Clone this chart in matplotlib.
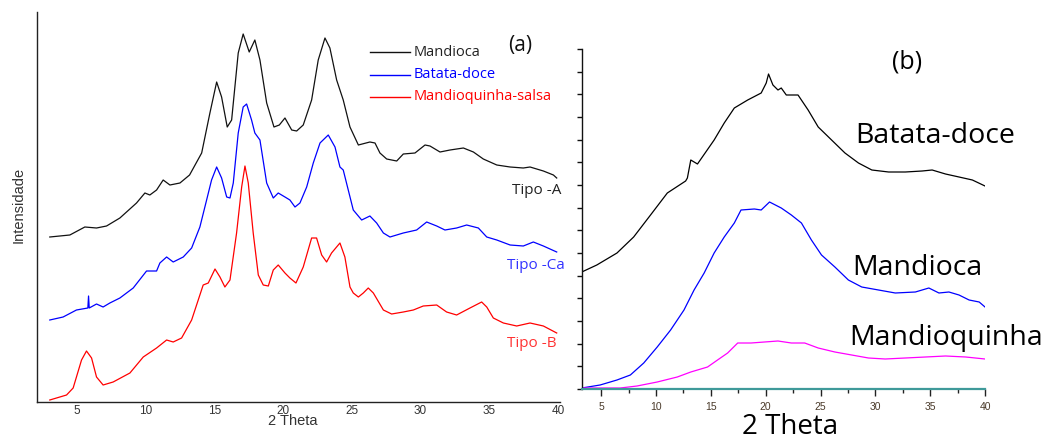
import matplotlib
matplotlib.use("Agg")
import matplotlib.pyplot as plt
import numpy as np
from matplotlib.lines import Line2D

# ---------------- Panel (a) data: 2 Theta vs intensity (a.u.) ----------------
a_mandioca_x = [3.03, 4.49, 5.58, 6.43, 7.16, 8.13, 9.34, 9.95, 10.31, 10.8, 11.28, 11.77, 12.5, 13.2,
                14.08, 14.68, 15.17, 15.53, 15.94, 16.26, 16.74, 17.1, 17.54, 17.95, 18.32, 18.81, 19.34,
                19.73, 20.14, 20.63, 20.99, 21.47, 22.08, 22.56, 23.05, 23.41, 23.9, 24.38, 24.87, 25.48,
                26.32, 26.69, 27.05, 27.54, 28.27, 28.75, 29.6, 30.33, 30.69, 31.42, 32.15, 33.12, 33.85,
                34.57, 35.55, 36.52, 37.48, 37.97, 38.94, 39.67, 39.91]
a_mandioca_y = [165, 167, 175, 174, 176, 184, 199, 209, 207, 212, 222, 217, 219, 227,
                249, 289, 320, 305, 275, 282, 349, 368, 350, 362, 342, 299, 275,
                277, 284, 272, 271, 277, 302, 342, 364, 354, 322, 302, 275, 257,
                260, 259, 249, 243, 241, 248, 249, 257, 256, 250, 252, 254, 250,
                243, 237, 235, 234, 235, 231, 227, 224]

a_batata_x = [3.03, 4.0, 4.97, 5.8, 5.85, 5.9, 6.43, 6.91, 7.4, 8.13, 9.1, 10.07, 10.8, 11.04, 11.53,
              12.01, 12.74, 13.35, 13.95, 14.44, 14.8, 15.17, 15.53, 15.9, 16.14, 16.38, 16.74, 17.1,
              17.35, 17.71, 17.95, 18.32, 18.81, 19.29, 19.65, 20.14, 20.5, 20.87, 21.23, 21.72, 22.2,
              22.69, 23.29, 23.78, 24.14, 24.38, 25.11, 25.72, 26.32, 26.81, 27.3, 27.78, 28.75, 29.72,
              30.45, 31.18, 31.78, 32.63, 33.36, 34.21, 34.82, 35.55, 36.52, 37.48, 38.21, 38.94, 39.91]
a_batata_y = [82, 85, 92, 94, 106, 94, 98, 95, 99, 104, 114, 131, 131, 139, 145,
              140, 145, 154, 175, 202, 222, 235, 224, 205, 204, 219, 269, 295,
              298, 282, 269, 262, 219, 204, 209, 205, 202, 195, 199, 215, 239,
              259, 267, 255, 235, 232, 192, 182, 186, 179, 169, 165, 169, 172,
              180, 176, 172, 174, 177, 174, 165, 162, 157, 156, 160, 156, 150]

a_mandioquinha_x = [3.03, 4.25, 4.73, 5.34, 5.7, 6.07, 6.43, 6.91, 7.64, 8.86, 9.83, 10.8, 11.53, 12.01,
                    12.62, 13.35, 13.83, 14.19, 14.56, 15.05, 15.41, 15.77, 16.14, 16.62, 16.99, 17.23,
                    17.47, 17.83, 18.2, 18.56, 18.93, 19.29, 19.65, 20.14, 20.5, 20.94, 21.47, 22.08,
                    22.44, 22.81, 23.17, 23.53, 24.14, 24.5, 24.87, 25.11, 25.48, 25.84, 26.2, 26.57,
                    27.3, 27.9, 28.75, 29.48, 30.2, 31.18, 31.9, 32.63, 33.6, 34.45, 34.82, 35.3, 36.03,
                    37.0, 37.97, 38.94, 39.91]
a_mandioquinha_y = [2, 7, 14, 42, 51, 44, 25, 17, 20, 29, 45, 54, 62, 60,
                    64, 82, 102, 117, 119, 133, 125, 115, 122, 169, 215, 236,
                    219, 169, 127, 117, 116, 132, 137, 129, 124, 119, 135, 164,
                    164, 147, 140, 149, 159, 145, 115, 109, 105, 109, 114, 109,
                    92, 88, 90, 92, 96, 97, 90, 87, 94, 100, 95, 84, 79,
                    76, 79, 76, 69]

a_series = ["Mandioca", "Batata-doce", "Mandioquinha-salsa"]
a_types = ["Tipo -A", "Tipo -Ca", "Tipo -B"]

# ---------------- Panel (b) data ----------------
b_batata_x = [3.23, 4.6, 6.44, 7.96, 9.5, 11.03, 12.7, 12.86, 13.17, 13.78, 15.3, 16.22, 17.14, 18.36,
              19.59, 20.05, 20.26, 20.66, 21.12, 21.42, 21.88, 22.95, 23.87, 24.79, 26.01, 27.23, 28.46,
              29.68, 31.21, 32.73, 34.27, 35.18, 36.4, 37.63, 38.85, 40.0]
b_batata_y = [117, 124, 136, 152, 174, 196, 208, 211, 229, 225, 249, 266, 281, 289,
              296, 306, 315, 304, 299, 301, 294, 294, 279, 262, 249, 236, 226,
              219, 217, 217, 218, 219, 215, 212, 209, 203]

b_mandioca_x = [3.23, 4.9, 6.44, 7.66, 8.88, 10.11, 11.33, 12.55, 13.47, 14.39, 15.3, 16.22, 17.14, 17.75,
                18.97, 19.59, 20.35, 21.42, 22.34, 23.26, 24.17, 25.09, 26.31, 27.54, 28.76, 30.29, 31.82,
                33.65, 34.88, 35.8, 36.71, 37.63, 38.55, 39.47, 40.0]
b_mandioca_y = [1, 4, 9, 14, 26, 42, 59, 79, 99, 116, 136, 152, 166, 179,
                180, 179, 187, 181, 174, 166, 149, 134, 122, 109, 102, 99, 96,
                97, 101, 96, 97, 94, 89, 87, 82]

b_mandioquinha_x = [3.23, 6.74, 8.27, 10.11, 11.94, 13.17, 14.7, 15.61, 16.53, 17.45, 18.67, 19.89, 21.12,
                    22.34, 23.56, 24.79, 26.31, 27.84, 29.37, 30.9, 32.73, 34.57, 36.4, 38.24, 40.0]
b_mandioquinha_y = [1, 1, 3, 7, 12, 17, 22, 29, 36, 46, 46, 47, 48,
                    46, 46, 41, 37, 34, 31, 30, 31, 32, 33, 32, 30]

b_labels = ["Batata-doce", "Mandioca", "Mandioquinha"]
x_ticks = [5, 10, 15, 20, 25, 30, 35, 40]

W, H = 1047, 440
fig = plt.figure(figsize=(W / 100, H / 100), dpi=100)

def fx(px):
    return px / W

def fy(py):
    return 1 - py / H

# ---------------- Axes (a) ----------------
axa = fig.add_axes([fx(37), fy(402), (560 - 37) / W, (402 - 12) / H])
ca = ["#111111", "#0000ff", "#ff0000"]
axa.plot(a_mandioca_x, a_mandioca_y, color=ca[0], lw=0.9)
axa.plot(a_batata_x, a_batata_y, color=ca[1], lw=0.9)
axa.plot(a_mandioquinha_x, a_mandioquinha_y, color=ca[2], lw=0.9)
axa.set_xlim(2.1, 40.15)
axa.set_ylim(0, 390)
axa.spines["top"].set_visible(False)
axa.spines["right"].set_visible(False)
for s in ("left", "bottom"):
    axa.spines[s].set_linewidth(1.0)
    axa.spines[s].set_color("#222222")
axa.set_yticks([])
axa.set_xticks(x_ticks)
axa.tick_params(axis="x", length=0, pad=2, labelsize=8.5, labelcolor="#333333")
for lab in axa.get_xticklabels():
    lab.set_family("Liberation Sans")

fig.text(fx(293), fy(421), "2 Theta", ha="center", va="center", fontsize=10.5,
         color="#333333", family="Liberation Sans")
fig.text(fx(19), fy(205), "Intensidade", ha="center", va="center", rotation=90,
         fontsize=10.5, color="#333333", family="Liberation Sans")

# legend (manual)
leg_y = [52, 75, 97]
for name, c, yy in zip(a_series, ca, leg_y):
    fig.add_artist(Line2D([fx(370), fx(410)], [fy(yy), fy(yy)], color=c, lw=1.0))
    fig.text(fx(414), fy(yy), name, ha="left", va="center", fontsize=10.5,
             color=c if c != "#111111" else "#222222", family="Open Sans")
fig.text(fx(520), fy(45), "(a)", ha="center", va="center", fontsize=15,
         color="#111111", family="Open Sans")

type_pos = [(561, 190), (565, 265), (557, 343)]
type_col = ["#222222", "#3333ff", "#ff3333"]
for t, (xx, yy), c in zip(a_types, type_pos, type_col):
    fig.text(fx(xx), fy(yy), t, ha="right", va="center", fontsize=11, color=c,
             family="Open Sans")

# ---------------- Axes (b) ----------------
axb = fig.add_axes([fx(582), fy(389), (985 - 582) / W, (389 - 49) / H])
axb.plot(b_batata_x, b_batata_y, color="#000000", lw=0.9)
axb.plot(b_mandioca_x, b_mandioca_y, color="#0000ff", lw=0.9)
axb.plot(b_mandioquinha_x, b_mandioquinha_y, color="#ff00ff", lw=0.9)
axb.set_xlim(3.25, 40.0)
axb.set_ylim(0, 340)
axb.spines["top"].set_visible(False)
axb.spines["right"].set_visible(False)
axb.spines["left"].set_color("#111111")
axb.spines["left"].set_linewidth(1.0)
axb.spines["bottom"].set_color("#3f9a9a")
axb.spines["bottom"].set_linewidth(1.6)
axb.set_yticks(np.linspace(0, 340, 16))
axb.set_yticklabels([])
axb.tick_params(axis="y", direction="out", length=3.5, width=1.0, color="#111111")
axb.set_xticks(x_ticks)
axb.set_xticks([7.5, 12.5, 17.5, 22.5, 27.5, 32.5, 37.5], minor=True)
axb.tick_params(axis="x", which="major", direction="out", length=5, width=1.0,
                color="#222222", labelsize=7.5, labelcolor="#4a3a2a", pad=4)
axb.tick_params(axis="x", which="minor", direction="out", length=3, width=1.0,
                color="#222222")
for lab in axb.get_xticklabels():
    lab.set_family("Liberation Sans")

fig.text(fx(790), fy(427), "2 Theta", ha="center", va="center", fontsize=20,
         color="#000000", family="Open Sans")
fig.text(fx(907), fy(62), "(b)", ha="center", va="center", fontsize=18,
         color="#000000", family="Open Sans")
b_lab_pos = [(855, 136), (852, 268), (849, 338)]
for t, (xx, yy) in zip(b_labels, b_lab_pos):
    fig.text(fx(xx), fy(yy), t, ha="left", va="center", fontsize=20.5,
             color="#000000", family="Open Sans")

fig.savefig("out.png", dpi=100)
